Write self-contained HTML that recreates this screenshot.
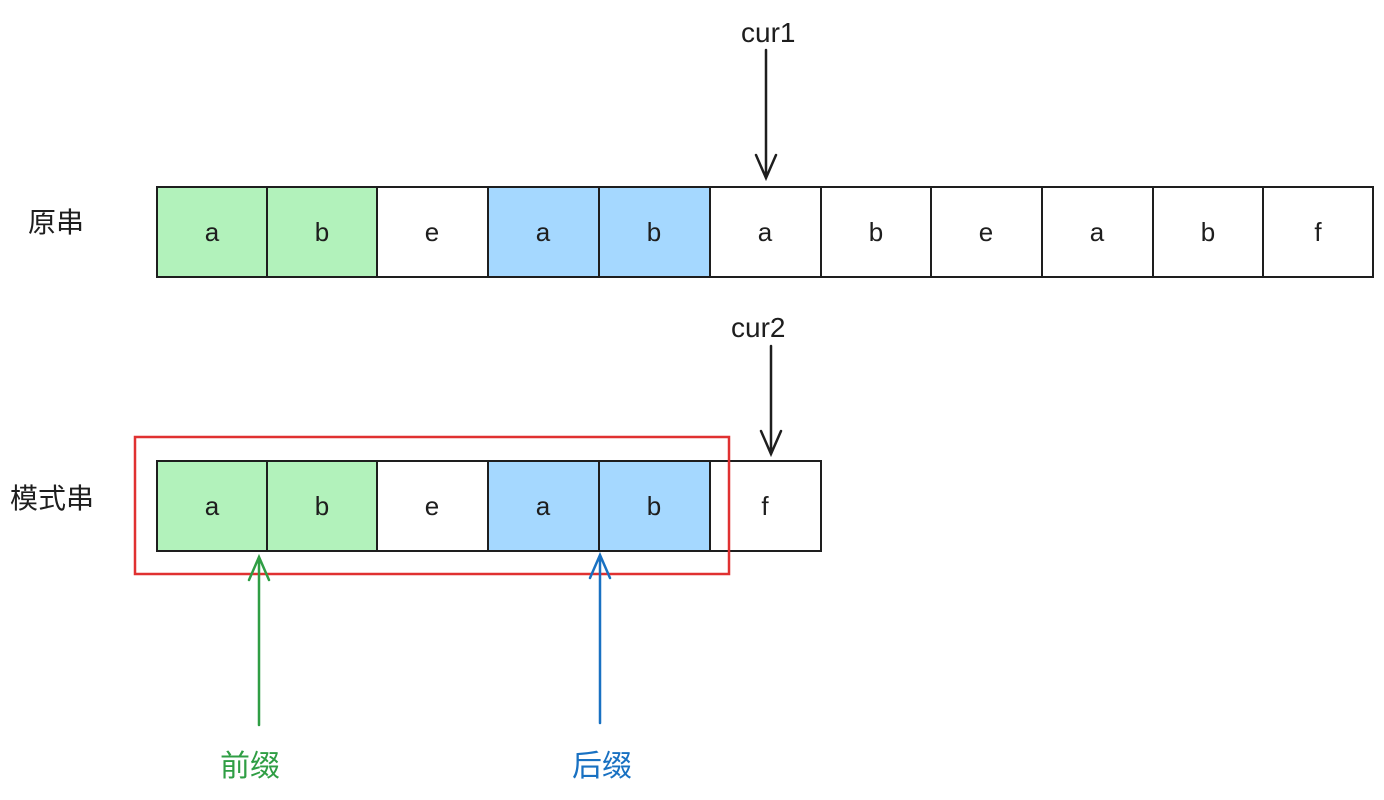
<!DOCTYPE html>
<html><head><meta charset="utf-8"><style>
html,body{margin:0;padding:0;background:#fff;}
svg{display:block}
text{font-family:"Liberation Sans","Noto Sans CJK SC",sans-serif;}
</style></head><body>
<svg width="1384" height="800" viewBox="0 0 1384 800" xmlns="http://www.w3.org/2000/svg">
<g stroke="#1e1e1e" stroke-width="2">
<rect x="157" y="187" width="110" height="90" fill="#b2f2bb"/>
<rect x="267" y="187" width="110" height="90" fill="#b2f2bb"/>
<rect x="377" y="187" width="111" height="90" fill="#fff"/>
<rect x="488" y="187" width="111" height="90" fill="#a5d8ff"/>
<rect x="599" y="187" width="111" height="90" fill="#a5d8ff"/>
<rect x="710" y="187" width="111" height="90" fill="#fff"/>
<rect x="821" y="187" width="110" height="90" fill="#fff"/>
<rect x="931" y="187" width="111" height="90" fill="#fff"/>
<rect x="1042" y="187" width="111" height="90" fill="#fff"/>
<rect x="1153" y="187" width="110" height="90" fill="#fff"/>
<rect x="1263" y="187" width="110" height="90" fill="#fff"/>

<rect x="157" y="461" width="110" height="90" fill="#b2f2bb"/>
<rect x="267" y="461" width="110" height="90" fill="#b2f2bb"/>
<rect x="377" y="461" width="111" height="90" fill="#fff"/>
<rect x="488" y="461" width="111" height="90" fill="#a5d8ff"/>
<rect x="599" y="461" width="111" height="90" fill="#a5d8ff"/>
<rect x="710" y="461" width="111" height="90" fill="#fff"/>
</g>
<rect x="135" y="437" width="594" height="137" fill="none" stroke="#e03131" stroke-width="2.5"/>
<g font-size="26" fill="#1e1e1e" text-anchor="middle">
<text x="212" y="241">a</text><text x="322" y="241">b</text><text x="432" y="241">e</text>
<text x="543" y="241">a</text><text x="654" y="241">b</text><text x="765" y="241">a</text>
<text x="876" y="241">b</text><text x="986" y="241">e</text><text x="1097" y="241">a</text>
<text x="1208" y="241">b</text><text x="1318" y="241">f</text>
<text x="212" y="515">a</text><text x="322" y="515">b</text><text x="432" y="515">e</text>
<text x="543" y="515">a</text><text x="654" y="515">b</text><text x="765" y="515">f</text>
</g>
<g font-size="28" fill="#1e1e1e">
<text x="28" y="232">原串</text>
<text x="10" y="508">模式串</text>
<text x="741" y="42">cur1</text>
<text x="731" y="337">cur2</text>
</g>
<g fill="none" stroke-width="2.5" stroke-linecap="round">
<path d="M766 50 L766 178 M756 155 L766 178 L776 155" stroke="#1e1e1e"/>
<path d="M771 346 L771 454 M761 431 L771 454 L781 431" stroke="#1e1e1e"/>
<path d="M259 725 L259 557 M249 580 L259 557 L269 580" stroke="#2f9e44"/>
<path d="M600 723 L600 555 M590 578 L600 555 L610 578" stroke="#1971c2"/>
</g>
<text x="220" y="776" font-size="30" fill="#2f9e44">前缀</text>
<text x="572" y="776" font-size="30" fill="#1971c2">后缀</text>
</svg>
</body></html>
